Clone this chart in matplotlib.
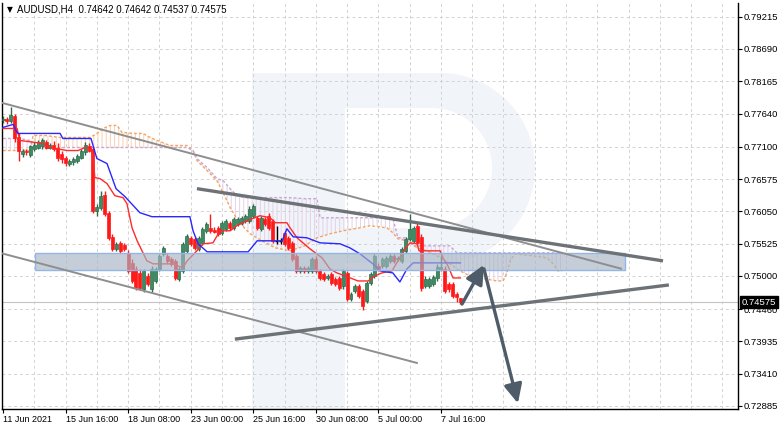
import numpy as np
import matplotlib
matplotlib.use("Agg")
import matplotlib.pyplot as plt
import matplotlib.transforms as mtransforms
from matplotlib.patches import Rectangle, PathPatch, FancyArrowPatch, ArrowStyle
from matplotlib.path import Path
from matplotlib import font_manager

# ---------------- data (AUDUSD, H4) ----------------
open_ = [0.77529, 0.77545, 0.77513, 0.77594, 0.77252, 0.76990, 0.77039, 0.76974, 0.77072, 0.77088,
         0.77105, 0.77170, 0.77088, 0.77137, 0.77088, 0.76990, 0.76925, 0.76827, 0.76860, 0.76876,
         0.76925, 0.77007, 0.77105, 0.77056, 0.76061, 0.76110, 0.76322, 0.76028, 0.75636, 0.75441,
         0.75538, 0.75506, 0.75375, 0.75212, 0.75114, 0.75049, 0.74788, 0.75000, 0.74788, 0.74918,
         0.75114, 0.75359, 0.75326, 0.75277, 0.75245, 0.74951, 0.75082, 0.75408, 0.75620, 0.75604,
         0.75441, 0.75538, 0.75734, 0.75783, 0.75750, 0.75783, 0.75702, 0.75767, 0.75865, 0.75783,
         0.75848, 0.75865, 0.75897, 0.75897, 0.75979, 0.75946, 0.75767, 0.75930, 0.75979, 0.75897,
         0.75571, 0.75571, 0.75702, 0.75620, 0.75538, 0.75326, 0.75082, 0.75131, 0.75082, 0.75082,
         0.75277, 0.75082, 0.75033, 0.74967, 0.75033, 0.74951, 0.74967, 0.74837, 0.75049, 0.74625,
         0.74755, 0.74837, 0.74755, 0.74592, 0.74886, 0.75000, 0.75163, 0.75163, 0.75163, 0.75245,
         0.75326, 0.75277, 0.75245, 0.75408, 0.75604, 0.75571, 0.75816, 0.75636, 0.74837, 0.74837,
         0.74869, 0.74967, 0.75114, 0.75114, 0.74869, 0.74869, 0.74706, 0.74642]
high = [0.77594, 0.77578, 0.77741, 0.77627, 0.77317, 0.77072, 0.77072, 0.77137, 0.77170, 0.77203,
        0.77235, 0.77203, 0.77154, 0.77186, 0.77154, 0.77039, 0.76958, 0.76909, 0.76941, 0.76990,
        0.77072, 0.77170, 0.77154, 0.77105, 0.76175, 0.76387, 0.76387, 0.76061, 0.75685, 0.75555,
        0.75571, 0.75538, 0.75424, 0.75277, 0.75163, 0.75114, 0.75114, 0.75049, 0.75163, 0.75147,
        0.75359, 0.75490, 0.75375, 0.75310, 0.75277, 0.75147, 0.75555, 0.75685, 0.75653, 0.75636,
        0.75653, 0.75799, 0.75881, 0.76012, 0.75799, 0.75816, 0.75897, 0.75930, 0.75897, 0.75963,
        0.75963, 0.75979, 0.76012, 0.76142, 0.76175, 0.75979, 0.75979, 0.75963, 0.76028, 0.75930,
        0.75816, 0.75620, 0.75734, 0.75653, 0.75571, 0.75359, 0.75163, 0.75163, 0.75163, 0.75310,
        0.75326, 0.75114, 0.75065, 0.75033, 0.75065, 0.74984, 0.75000, 0.75114, 0.75082, 0.74739,
        0.74869, 0.74869, 0.74788, 0.74918, 0.75065, 0.75359, 0.75212, 0.75310, 0.75326, 0.75359,
        0.75359, 0.75326, 0.75473, 0.75636, 0.76012, 0.75816, 0.75865, 0.75685, 0.75000, 0.74984,
        0.75016, 0.75196, 0.75326, 0.75163, 0.74902, 0.74902, 0.74739, 0.74642]
low = [0.77480, 0.77464, 0.77480, 0.77170, 0.76876, 0.76941, 0.76974, 0.76941, 0.77039, 0.77056,
       0.77072, 0.77056, 0.77056, 0.77039, 0.76876, 0.76844, 0.76795, 0.76795, 0.76811, 0.76844,
       0.76909, 0.76974, 0.77007, 0.76028, 0.75979, 0.76077, 0.75979, 0.75587, 0.75408, 0.75408,
       0.75375, 0.75408, 0.75049, 0.74886, 0.74771, 0.74771, 0.74739, 0.74837, 0.74739, 0.74886,
       0.75082, 0.75326, 0.75212, 0.75163, 0.74935, 0.74918, 0.75049, 0.75375, 0.75490, 0.75424,
       0.75408, 0.75506, 0.75702, 0.75702, 0.75702, 0.75653, 0.75669, 0.75734, 0.75750, 0.75750,
       0.75816, 0.75832, 0.75865, 0.75865, 0.75946, 0.75750, 0.75734, 0.75816, 0.75750, 0.75538,
       0.75522, 0.75522, 0.75490, 0.75424, 0.75245, 0.75049, 0.75049, 0.75049, 0.75049, 0.75049,
       0.75049, 0.74935, 0.74918, 0.74935, 0.74853, 0.74837, 0.74771, 0.74788, 0.74592, 0.74592,
       0.74722, 0.74641, 0.74445, 0.74559, 0.74853, 0.74967, 0.75082, 0.75131, 0.75131, 0.75212,
       0.75212, 0.75245, 0.75212, 0.75375, 0.75571, 0.75538, 0.75506, 0.74755, 0.74804, 0.74804,
       0.74837, 0.74918, 0.75082, 0.74722, 0.74739, 0.74641, 0.74576, 0.74537]
close = [0.77545, 0.77513, 0.77611, 0.77235, 0.77039, 0.77039, 0.77007, 0.77105, 0.77137, 0.77170,
         0.77203, 0.77088, 0.77121, 0.77072, 0.76925, 0.76909, 0.76844, 0.76876, 0.76909, 0.76958,
         0.77039, 0.77121, 0.77039, 0.76061, 0.76126, 0.76305, 0.76012, 0.75620, 0.75441, 0.75522,
         0.75408, 0.75441, 0.75082, 0.74918, 0.74804, 0.74804, 0.75082, 0.74869, 0.75114, 0.75114,
         0.75326, 0.75457, 0.75245, 0.75196, 0.74967, 0.75114, 0.75522, 0.75653, 0.75522, 0.75457,
         0.75620, 0.75767, 0.75848, 0.75734, 0.75718, 0.75685, 0.75865, 0.75897, 0.75783, 0.75930,
         0.75930, 0.75946, 0.75979, 0.76093, 0.76142, 0.75783, 0.75946, 0.75848, 0.75783, 0.75571,
         0.75571, 0.75571, 0.75522, 0.75457, 0.75277, 0.75082, 0.75131, 0.75082, 0.75131, 0.75277,
         0.75082, 0.74967, 0.74951, 0.75000, 0.74886, 0.74869, 0.74804, 0.75082, 0.74625, 0.74706,
         0.74837, 0.74674, 0.74510, 0.74886, 0.75033, 0.75326, 0.75114, 0.75277, 0.75294, 0.75326,
         0.75245, 0.75294, 0.75441, 0.75604, 0.75767, 0.75783, 0.75538, 0.74804, 0.74951, 0.74951,
         0.74984, 0.75147, 0.75147, 0.74755, 0.74788, 0.74674, 0.74650, 0.74575]

time_tick_bars = [0, 16, 32, 48, 64, 80, 96, 112]
time_tick_labels = ["11 Jun 2021", "15 Jun 16:00", "18 Jun 08:00", "23 Jun 00:00",
                    "25 Jun 16:00", "30 Jun 08:00", "5 Jul 00:00", "7 Jul 16:00"]
price_ticks = [0.79215, 0.78690, 0.78165, 0.77640, 0.77100, 0.76575, 0.76050,
               0.75525, 0.75000, 0.74460, 0.73935, 0.73410, 0.72885]

# Ichimoku lines (vertices: bar position, price)
tenkan_bar = [0.0, 3.6, 4.3, 10.2, 12.0, 16.4, 19.2, 21.0, 22.8, 23.5, 24.8, 26.6, 28.6, 30.7, 31.7,
              33.0, 34.3, 36.8, 38.4, 43.5, 46.0, 47.1, 49.6, 51.2, 53.7, 55.5, 58.1, 59.8, 62.4, 65.7,
              68.3, 69.6, 72.6, 73.4, 75.2, 78.5, 81.6, 83.6, 85.4, 87.5, 90.8, 93.4, 95.1, 96.9, 99.5,
              101.0, 102.8, 104.1, 105.9, 106.4, 111.8, 112.5, 113.8, 115.1, 117.0]
tenkan_val = [0.77398, 0.77398, 0.77203, 0.77154, 0.77088, 0.77039, 0.77039, 0.77088, 0.77039, 0.76599,
              0.76583, 0.76501, 0.76305, 0.76273, 0.76175, 0.75783, 0.75571, 0.75245, 0.75196, 0.75196,
              0.75131, 0.75245, 0.75408, 0.75522, 0.75538, 0.75734, 0.75734, 0.75816, 0.75897, 0.75979,
              0.75946, 0.75865, 0.75865, 0.75783, 0.75620, 0.75441, 0.75294, 0.75114, 0.75049, 0.75000,
              0.74918, 0.74918, 0.75000, 0.75049, 0.75082, 0.75245, 0.75441, 0.75538, 0.75522, 0.75408,
              0.75408, 0.75294, 0.75163, 0.74967, 0.74967]
kijun_bar = [0.0, 2.6, 3.3, 3.8, 14.6, 15.3, 22.5, 24.0, 26.6, 28.9, 31.2, 35.0, 38.1, 47.8, 48.6,
             49.9, 52.2, 62.7, 65.0, 71.4, 72.6, 74.2, 77.7, 81.1, 86.2, 88.7, 91.3, 94.6, 96.4, 99.7,
             101.5, 103.3, 104.9, 117.0]
kijun_val = [0.77415, 0.77464, 0.77366, 0.77317, 0.77317, 0.77235, 0.77235, 0.76909, 0.76827, 0.76419,
             0.76289, 0.76028, 0.75963, 0.75963, 0.75734, 0.75522, 0.75392, 0.75392, 0.75571, 0.75571,
             0.75767, 0.75636, 0.75620, 0.75538, 0.75522, 0.75457, 0.75359, 0.75196, 0.75082, 0.75049,
             0.74902, 0.75114, 0.75212, 0.75212]
cloud_bar = [0.0, 4.3, 6.9, 7.7, 10.7, 14.6, 18.4, 22.3, 24.0, 25.6, 27.4, 29.2, 30.4, 33.8, 35.8,
             37.6, 39.4, 42.7, 47.1, 48.6, 49.6, 52.2, 54.7, 56.3, 58.1, 59.8, 61.9, 63.2, 66.2, 69.6,
             73.4, 77.2, 80.3, 81.1, 83.6, 87.0, 91.3, 93.9, 98.2, 99.7, 101.0, 103.3, 104.9, 105.9,
             108.4, 111.0, 114.3, 116.1, 116.9, 119.4, 122.0, 126.3, 127.9, 128.9, 129.7, 130.9,
             135.5, 139.1, 140.7, 141.9, 143.0]
span_a = [0.77039, 0.77039, 0.77039, 0.77284, 0.77284, 0.77252, 0.77252, 0.77252, 0.77317, 0.77398,
          0.77447, 0.77447, 0.77333, 0.77317, 0.77317, 0.77252, 0.77203, 0.77121, 0.77121, 0.77039,
          0.76876, 0.76713, 0.76550, 0.76354, 0.76110, 0.75930, 0.75767, 0.75685, 0.75571, 0.75457,
          0.75408, 0.75490, 0.75620, 0.75636, 0.75685, 0.75734, 0.75783, 0.75816, 0.75783, 0.75702,
          0.75604, 0.75571, 0.75506, 0.75457, 0.75408, 0.75326, 0.75196, 0.75114, 0.75082, 0.75000,
          0.74967, 0.74918, 0.74918, 0.75049, 0.75245, 0.75359, 0.75326, 0.75294, 0.75196, 0.75082,
          0.75082]
span_b = [0.77235, 0.77235, 0.77203, 0.77105, 0.77088, 0.77088, 0.77088, 0.77088, 0.77088, 0.77088,
          0.77088, 0.77088, 0.77088, 0.77088, 0.77088, 0.77088, 0.77088, 0.77088, 0.77088, 0.77039,
          0.76909, 0.76762, 0.76583, 0.76550, 0.76419, 0.76305, 0.76273, 0.76273, 0.76273, 0.76273,
          0.76273, 0.76256, 0.76256, 0.75946, 0.75946, 0.75946, 0.75946, 0.75946, 0.75946, 0.75946,
          0.75620, 0.75620, 0.75489, 0.75489, 0.75489, 0.75489, 0.75489, 0.75375, 0.75375, 0.75375,
          0.75375, 0.75375, 0.75375, 0.75375, 0.75375, 0.75375, 0.75375, 0.75375, 0.75375, 0.75375,
          0.75375]

# analysis drawings (bar position, price)
zone_bars = [8.2, 159.1]
zone_prices = [0.75098, 0.75375]
thin_upper_bars = [-0.77, 158.3]
thin_upper_prices = [0.77823, 0.75114]
thick_upper_bars = [49.6, 168.8]
thick_upper_prices = [0.76419, 0.75245]
thick_lower_bars = [59.3, 170.3]
thick_lower_prices = [0.73972, 0.74853]
thin_lower_bars = [-0.77, 106.1]
thin_lower_prices = [0.75375, 0.73581]
arrow_up_bars = [117.4, 123.0]
arrow_up_prices = [0.74543, 0.75180]
arrow_down_bars = [123.0, 131.7]
arrow_down_prices = [0.75114, 0.72928]

header = "AUDUSD,H4  0.74642 0.74642 0.74537 0.74575"


# ---------------- fonts ----------------
def has_font(name):
    try:
        font_manager.findfont(font_manager.FontProperties(family=name), fallback_to_default=False)
        return True
    except Exception:
        return False

base_font = "Liberation Sans" if has_font("Liberation Sans") else "DejaVu Sans"
narrow_font = "Liberation Sans Narrow" if has_font("Liberation Sans Narrow") else base_font
plt.rcParams["font.family"] = [base_font, "DejaVu Sans"]
plt.rcParams["hatch.linewidth"] = 0.75

# ---------------- figure ----------------
W, H = 782, 428
fig = plt.figure(figsize=(W / 100, H / 100), dpi=100)
fig.patch.set_facecolor("white")
Lp, Rp, Tp, Bp = 2, 738, 3, 409
ax = fig.add_axes([Lp / W, 1 - Bp / H, (Rp - Lp) / W, (Bp - Tp) / H])
ax.set_facecolor("white")
ax.set_xlim(-0.26, 187.98)
ax.set_ylim(0.72836, 0.79438)

px = mtransforms.Affine2D().scale(1 / W, -1 / H).translate(0, 1) + fig.transFigure

# watermark "R"
wm = "#F1F4F8"
ax.add_patch(Rectangle((252, 73), 93, 336, transform=px, facecolor=wm, edgecolor="none", zorder=0.1))
t = np.linspace(-np.pi / 2, np.pi / 2, 60)
outer = [(345, 73)] + [(440 + 95 * np.cos(a), 168 + 95 * np.sin(a)) for a in t] + [(345, 263)]
inner = [(345, 108)] + [(432 + 60 * np.cos(a), 168 + 60 * np.sin(a)) for a in t] + [(345, 228)]
inner = inner[::-1]
verts = outer + [outer[0]] + inner + [inner[0]]
codes = ([Path.MOVETO] + [Path.LINETO] * (len(outer) - 1) + [Path.CLOSEPOLY]
         + [Path.MOVETO] + [Path.LINETO] * (len(inner) - 1) + [Path.CLOSEPOLY])
ax.add_patch(PathPatch(Path(verts, codes), transform=px, facecolor=wm, edgecolor="none", zorder=0.1))

# grid
for p in price_ticks:
    ax.axhline(p, color="#D2D2D2", lw=0.7, ls=(0, (3, 3)), zorder=0.5)
for b in range(8, 188, 8):
    ax.axvline(b, color="#D2D2D2", lw=0.7, ls=(0, (3, 3)), zorder=0.5)

# bid line
ax.axhline(close[-1], color="#C4C4C4", lw=0.8, zorder=0.6)

# Ichimoku cloud
ca = np.array(span_a)
cb = np.array(span_b)
cx = np.array(cloud_bar)
ax.fill_between(cx, ca, cb, where=ca >= cb, interpolate=True, facecolor="none",
                edgecolor="#F8D3B6", hatch="||||", linewidth=0, zorder=1)
ax.fill_between(cx, ca, cb, where=ca <= cb, interpolate=True, facecolor="none",
                edgecolor="#E5D4EA", hatch="||||", linewidth=0, zorder=1)
ax.plot(cx, ca, color="#F4A460", lw=1.0, ls=(0, (2, 1.5)), zorder=1.5)
ax.plot(cx, cb, color="#CDA4D4", lw=1.0, ls=(0, (2, 1.5)), zorder=1.5)

# candles
o = np.array(open_)
h = np.array(high)
l = np.array(low)
c = np.array(close)
idx = np.arange(len(c))
up = c > o
dn = c < o
dj = c == o
bw = 0.76
ax.vlines(idx[up], l[up], h[up], color="#2D6B4C", lw=1.0, zorder=3)
ax.bar(idx[up], (c - o)[up], bottom=o[up], width=bw, color="#3D8B63", edgecolor="#2D6B4C",
       lw=0.5, zorder=4)
ax.vlines(idx[dn], l[dn], h[dn], color="#FF1A1A", lw=1.0, zorder=3)
ax.bar(idx[dn], (c - o)[dn], bottom=o[dn], width=bw, color="#FF1A1A", edgecolor="#FF1A1A",
       lw=0.5, zorder=4)
ax.vlines(idx[dj], l[dj], h[dj], color="black", lw=1.0, zorder=3)
ax.hlines(c[dj], idx[dj] - bw / 2, idx[dj] + bw / 2, color="black", lw=1.0, zorder=4)

# Tenkan / Kijun
ax.plot(tenkan_bar, tenkan_val, color="#FF2A2A", lw=1.0, zorder=5)
ax.plot(kijun_bar, kijun_val, color="#2828FF", lw=1.0, zorder=5)

# zone rectangle
ax.add_patch(Rectangle((zone_bars[0], zone_prices[0]), zone_bars[1] - zone_bars[0],
                       zone_prices[1] - zone_prices[0], facecolor="#A7B5C3", alpha=0.65,
                       edgecolor="none", zorder=6))
ax.add_patch(Rectangle((zone_bars[0], zone_prices[0]), zone_bars[1] - zone_bars[0],
                       zone_prices[1] - zone_prices[0], facecolor="none",
                       edgecolor="#93B6E4", lw=1.0, zorder=6.1))

# trend lines
ax.plot(thin_upper_bars, thin_upper_prices, color="#8E8E8E", lw=1.4, zorder=7, solid_capstyle="butt")
ax.plot(thin_lower_bars, thin_lower_prices, color="#8E8E8E", lw=1.4, zorder=7, solid_capstyle="butt")
ax.plot(thick_upper_bars, thick_upper_prices, color="#6D7276", lw=2.4, zorder=7, solid_capstyle="butt")
ax.plot(thick_lower_bars, thick_lower_prices, color="#6D7276", lw=2.4, zorder=7, solid_capstyle="butt")

# arrows
astyle = ArrowStyle("-|>", head_length=0.95, head_width=0.45)
for bx, py in ((arrow_up_bars, arrow_up_prices), (arrow_down_bars, arrow_down_prices)):
    ax.add_patch(FancyArrowPatch((bx[0], py[0]), (bx[1], py[1]), arrowstyle=astyle,
                                 mutation_scale=12, lw=2.4, color="#4E5C6A",
                                 shrinkA=0, shrinkB=0, zorder=8))

# axes styling
for name, s in ax.spines.items():
    s.set_color("black")
    s.set_linewidth(1.0)
ax.spines["top"].set_visible(False)
ax.yaxis.tick_right()
ax.set_yticks(price_ticks)
ax.set_yticklabels([f"{p:.5f}" for p in price_ticks])
ax.tick_params(axis="y", direction="out", length=3, width=0.8, pad=1.2, labelsize=6.8,
               colors="black")
ax.set_xticks(time_tick_bars)
ax.set_xticklabels(time_tick_labels)
ax.tick_params(axis="x", direction="out", length=3, width=0.8, pad=1.5, labelsize=7,
               colors="black")
for lbl in ax.get_xticklabels():
    lbl.set_ha("left")
    lbl.set_family([narrow_font, "DejaVu Sans"])
    if narrow_font == base_font:
        lbl.set_fontsize(6.5)

# current price label
bt = mtransforms.blended_transform_factory(px, ax.transData)
ax.text(742, close[-1], f"{close[-1]:.5f}", transform=bt, ha="left", va="center",
        fontsize=6.8, color="white", zorder=10, clip_on=False,
        bbox=dict(boxstyle="square,pad=0.18", facecolor="black", edgecolor="black"))

# header
ax.text(7, 10, "\u25BC", transform=px, ha="left", va="center", fontsize=5.5,
        family=["DejaVu Sans"], color="black", zorder=10)
ax.text(17, 10, header, transform=px, ha="left", va="center", fontsize=7,
        color="black", zorder=10)

fig.savefig("out.png", dpi=100, facecolor="white")
